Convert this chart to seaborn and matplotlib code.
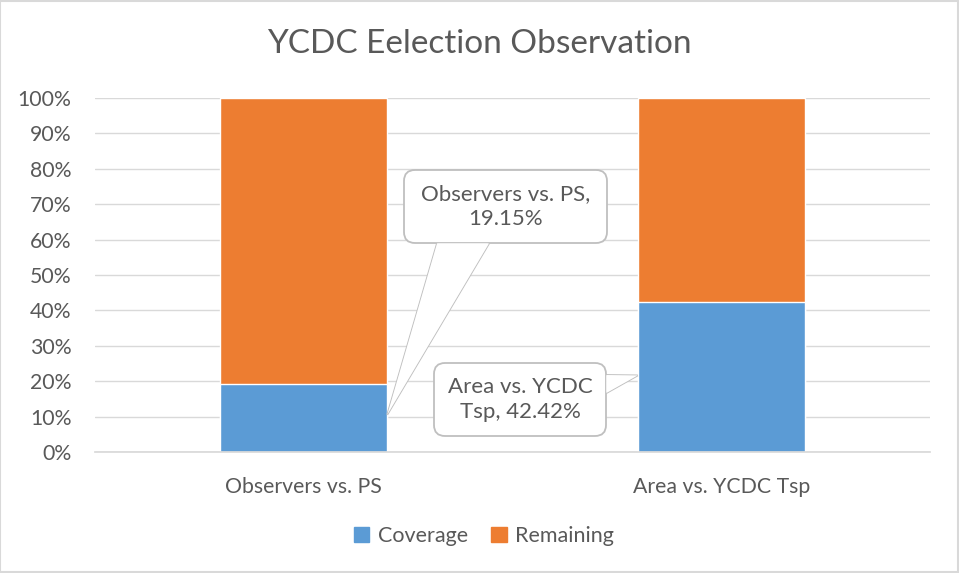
import matplotlib.pyplot as plt
import numpy as np
import pandas as pd
import seaborn as sns
from matplotlib.patches import FancyBboxPatch, Polygon, Rectangle
from matplotlib.ticker import PercentFormatter
from matplotlib.transforms import IdentityTransform

categories = ["Observers vs. PS", "Area vs. YCDC Tsp"]
coverage = [0.1915, 0.4242]
series = ["Coverage", "Remaining"]
colors = {"Coverage": "#5b9bd5", "Remaining": "#ed7d31"}
title = "YCDC Eelection Observation"

remaining = [1 - c for c in coverage]
df = pd.DataFrame({"category": categories, "Coverage": coverage, "Remaining": remaining})

sns.set_theme(style="white")
plt.rcParams["font.family"] = ["Lato", "DejaVu Sans"]
text_color = "#595959"
grid_color = "#d9d9d9"
H = 573

fig = plt.figure(figsize=(9.59, 5.73), dpi=100)
fig.patches.append(Rectangle((0.0005, 0.001), 0.998, 0.997, transform=fig.transFigure,
                             fill=False, edgecolor=grid_color, linewidth=1.5))
ax = fig.add_axes([95 / 959, 121 / 573, 835 / 959, 354 / 573])

# stacked bars: full height (remaining on top) then coverage in front
df["total"] = df["Coverage"] + df["Remaining"]
sns.barplot(data=df, x="category", y="total", color=colors["Remaining"], width=0.4,
            saturation=1, ax=ax, zorder=3)
sns.barplot(data=df, x="category", y="Coverage", color=colors["Coverage"], width=0.4,
            saturation=1, ax=ax, zorder=3)

ax.set_xlim(-0.5, 1.5)
ax.set_ylim(0, 1)
ax.set_yticks(np.linspace(0, 1, 11))
ax.yaxis.set_major_formatter(PercentFormatter(1.0, decimals=0))
ax.grid(axis="y", color=grid_color, linewidth=1, zorder=0)
ax.grid(axis="x", visible=False)
for s in ["top", "right", "left"]:
    ax.spines[s].set_visible(False)
ax.spines["bottom"].set_color(grid_color)
ax.spines["bottom"].set_zorder(4)
ax.tick_params(axis="both", length=0, labelsize=15.3, labelcolor=text_color)
ax.tick_params(axis="x", pad=18)
ax.tick_params(axis="y", pad=17)
ax.set_xlabel("")
ax.set_ylabel("")
fig.suptitle(title, x=479 / 959, y=1 - 44 / 573, va="center", fontsize=24, color=text_color)

# callouts drawn in pixel coordinates, tip placed on the bar via the data transform
def callout(text, box, base, tip_data):
    x0, y0, x1, y1 = box
    tip = ax.transData.transform(tip_data)
    edge = "#bfbfbf"
    patch = FancyBboxPatch((x0, H - y1), x1 - x0, y1 - y0,
                           boxstyle="round,pad=0,rounding_size=11",
                           facecolor="white", edgecolor=edge, linewidth=1.3, zorder=5,
                           transform=IdentityTransform(), clip_on=False)
    ax.add_patch(patch)
    pts = [(base[0][0], H - base[0][1]), tuple(tip), (base[1][0], H - base[1][1])]
    ax.add_patch(Polygon(pts, closed=False, facecolor="white", edgecolor=edge,
                         linewidth=1.3, zorder=5, transform=IdentityTransform(), clip_on=False))
    ax.add_patch(Polygon(pts, closed=True, facecolor="white", edgecolor="none",
                         zorder=6, transform=IdentityTransform(), clip_on=False))
    ax.text((x0 + x1) / 2, H - (y0 + y1) / 2, text, ha="center", va="center",
            fontsize=16, color=text_color, zorder=7, linespacing=1.3,
            transform=IdentityTransform())


callout(f"{categories[0]},\n{coverage[0]:.2%}", (404, 170, 607, 243),
        [(437, 243.5), (489, 243.5)], (0.2, coverage[0] * 0.55))
callout(f"Area vs. YCDC\nTsp, {coverage[1]:.2%}", (434, 363, 606, 436),
        [(606.5, 375), (606.5, 393)], (0.8, coverage[1] * 0.51))

handles = [Rectangle((0, 0), 1, 1, color=colors[s]) for s in series]
fig.legend(handles, series, loc="center", bbox_to_anchor=(484 / 959, 1 - 536 / 573),
           ncol=2, frameon=False, fontsize=15.5, handlelength=0.7, handleheight=0.7,
           handletextpad=0.4, columnspacing=1.1, labelcolor=text_color)

fig.savefig("out.png", dpi=100)
